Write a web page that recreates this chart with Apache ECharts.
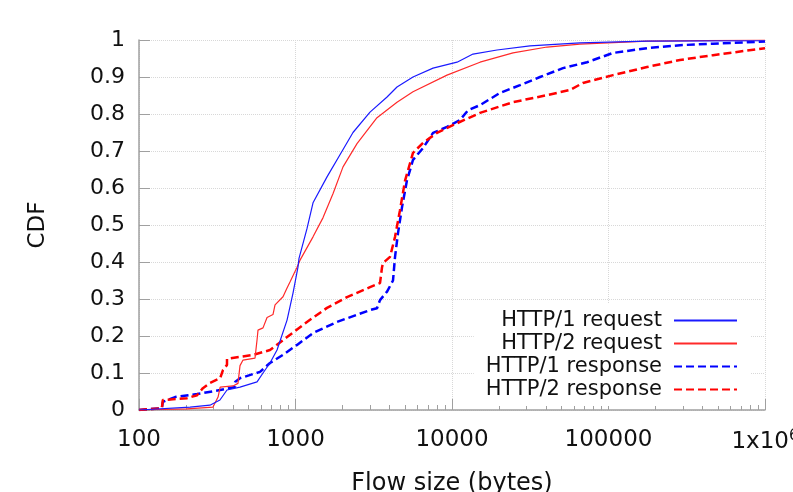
<!DOCTYPE html>
<html>
<head>
<meta charset="utf-8">
<script src="https://cdn.jsdelivr.net/npm/echarts@6/dist/echarts.min.js"></script>
<style>
  html, body { margin: 0; padding: 0; background: #fff; }
  #chart { width: 793px; height: 492px; }
</style>
</head>
<body>
<div id="chart"></div>
<script>
// [flow size (bytes), CDF]
var h1Request = [
  [100, 0], [101, 0.003], [212, 0.008], [284, 0.013], [329, 0.027], [365, 0.054],
  [442, 0.062], [568, 0.076], [620, 0.1], [687, 0.127], [762, 0.162], [883, 0.243],
  [964, 0.316], [1037, 0.386], [1053, 0.41], [1184, 0.49], [1294, 0.56], [1590, 0.63],
  [1924, 0.69], [2330, 0.75], [2993, 0.805], [3846, 0.846], [4452, 0.873], [5633, 0.9],
  [7566, 0.924], [10770, 0.94], [13620, 0.962], [19400, 0.973], [31500, 0.984],
  [65700, 0.992], [176200, 0.997], [1000000, 0.998]
];
var h2Request = [
  [100, 0], [203, 0.003], [297, 0.008], [320, 0.035], [330, 0.062], [399, 0.065],
  [429, 0.072], [442, 0.12], [462, 0.135], [551, 0.14], [568, 0.19], [576, 0.216],
  [620, 0.222], [658, 0.25], [718, 0.258], [740, 0.284], [832, 0.306], [883, 0.33],
  [922, 0.346], [1023, 0.386], [1069, 0.405], [1294, 0.468], [1500, 0.52], [1738, 0.585],
  [2012, 0.657], [2472, 0.72], [3318, 0.79], [4452, 0.832], [5633, 0.86], [9290, 0.905],
  [15100, 0.94], [24550, 0.965], [40500, 0.981], [65700, 0.989], [176200, 0.997],
  [1000000, 1.0]
];
var h1Response = [
  [100, 0], [140, 0.005], [142, 0.022], [170, 0.035], [235, 0.043], [330, 0.054],
  [411, 0.062], [411, 0.076], [442, 0.086], [593, 0.103], [687, 0.127], [832, 0.149],
  [1023, 0.176], [1294, 0.208], [1842, 0.238], [2993, 0.27], [3318, 0.275], [3467, 0.297],
  [3846, 0.32], [4198, 0.35], [4325, 0.414], [4518, 0.478], [4797, 0.549], [5152, 0.62],
  [5633, 0.676], [6531, 0.708], [7566, 0.749], [9290, 0.765], [11250, 0.784],
  [12650, 0.81], [15100, 0.824], [20260, 0.857], [27200, 0.878], [36500, 0.9],
  [51200, 0.924], [72900, 0.94], [106900, 0.965], [176200, 0.978], [286400, 0.986],
  [465500, 0.99], [1000000, 0.996]
];
var h2Response = [
  [100, 0], [140, 0.005], [142, 0.027], [203, 0.032], [235, 0.04], [256, 0.059],
  [284, 0.073], [330, 0.086], [344, 0.108], [365, 0.122], [365, 0.138], [535, 0.149],
  [687, 0.162], [883, 0.197], [1184, 0.238], [1590, 0.276], [2133, 0.305], [2993, 0.332],
  [3467, 0.343], [3573, 0.386], [3624, 0.397], [4018, 0.414], [4325, 0.468], [4652, 0.54],
  [5012, 0.62], [5633, 0.695], [6531, 0.722], [8017, 0.749], [10140, 0.77], [15100, 0.803],
  [24550, 0.832], [40500, 0.851], [56800, 0.865], [68700, 0.884], [106900, 0.905],
  [176200, 0.927], [286400, 0.946], [465500, 0.959], [1000000, 0.978]
];
var seriesNames = ["HTTP/1 request", "HTTP/2 request", "HTTP/1 response", "HTTP/2 response"];
var xMinorTicks = [];
for (var dec = 100; dec < 1000000; dec *= 10) {
  for (var m = 2; m <= 9; m++) xMinorTicks.push(m * dec);
}

var chart = echarts.init(document.getElementById("chart"));
var font = "DejaVu Sans";
var axisGray = "#a0a0a0";

var option = {
  animation: false,
  textStyle: { fontFamily: font },
  grid: { left: 139, right: 28, top: 40, bottom: 82, containLabel: false, outerBoundsMode: "none" },
  legend: {
    data: seriesNames,
    orient: "vertical",
    align: "right",
    right: 43,
    top: 304,
    padding: [6, 12, 6, 12],
    backgroundColor: "#fff",
    itemWidth: 63,
    itemHeight: 20,
    itemGap: 2,
    itemStyle: { opacity: 0 },
    textStyle: { fontFamily: font, fontSize: 21, color: "#111", padding: [0, 7, 0, 0] }
  },
  xAxis: [
    {
      type: "log",
      logBase: 10,
      min: 100,
      max: 1000000,
      name: "Flow size (bytes)",
      nameLocation: "middle",
      nameGap: 62,
      nameTextStyle: { fontFamily: font, fontSize: 24, color: "#111" },
      axisLine: { lineStyle: { color: axisGray, width: 1.5 } },
      axisTick: { inside: true, length: 11, lineStyle: { color: axisGray } },
      axisLabel: {
        fontSize: 23,
        color: "#111",
        margin: 19,
        hideOverlap: false,
        formatter: function (v) {
          if (v >= 1000000) return "1x10{sup|6}";
          return String(v);
        },
        rich: { sup: { fontSize: 15, verticalAlign: "top", padding: [0, 0, 12, 0] } }
      },
      splitLine: { show: true, lineStyle: { color: "#d8d8d8", type: "dotted" } }
    },
    {
      type: "log",
      logBase: 10,
      min: 100,
      max: 1000000,
      position: "bottom",
      axisLine: { show: false },
      axisLabel: { show: false },
      splitLine: { show: false },
      axisTick: {
        inside: true,
        length: 5,
        customValues: xMinorTicks,
        lineStyle: { color: axisGray }
      }
    }
  ],
  yAxis: {
    type: "value",
    min: 0,
    max: 1,
    interval: 0.1,
    name: "CDF",
    nameLocation: "middle",
    nameGap: 89,
    nameTextStyle: { fontFamily: font, fontSize: 23, color: "#111" },
    axisLine: { show: true, lineStyle: { color: axisGray, width: 1.5 } },
    axisTick: { show: true, inside: true, length: 11, lineStyle: { color: axisGray } },
    axisLabel: { fontSize: 22, color: "#111", margin: 14 },
    splitLine: { show: true, lineStyle: { color: "#d8d8d8", type: "dotted" } }
  },
  series: [
    {
      name: seriesNames[0], type: "line", data: h1Request, symbol: "none",
      lineStyle: { color: "#1a1aff", width: 1.2 }, itemStyle: { color: "#1a1aff" }, z: 4
    },
    {
      name: seriesNames[1], type: "line", data: h2Request, symbol: "none",
      lineStyle: { color: "#ff2a2a", width: 1.2 }, itemStyle: { color: "#ff2a2a" }, z: 3
    },
    {
      name: seriesNames[2], type: "line", data: h1Response, symbol: "none",
      lineStyle: { color: "#0000ff", width: 2.5, type: [8, 4] }, itemStyle: { color: "#0000ff" }, z: 2
    },
    {
      name: seriesNames[3], type: "line", data: h2Response, symbol: "none",
      lineStyle: { color: "#ff0000", width: 2.5, type: [8, 4] }, itemStyle: { color: "#ff0000" }, z: 2
    }
  ]
};

chart.setOption(option);
</script>
</body>
</html>
